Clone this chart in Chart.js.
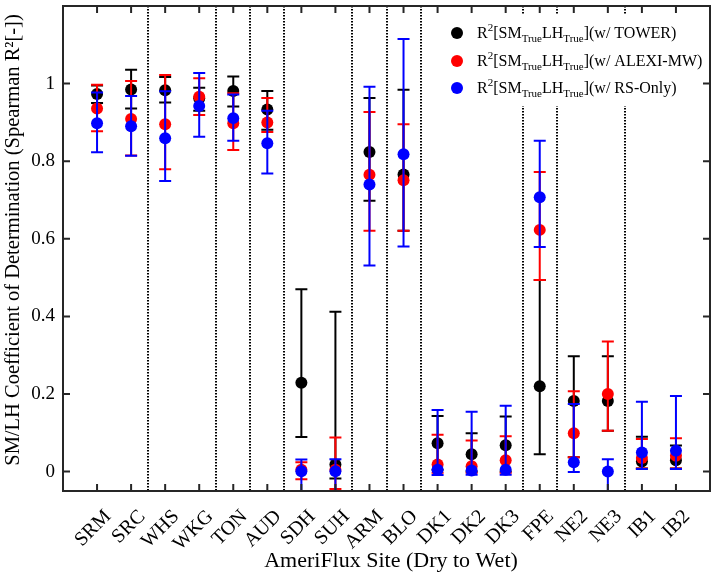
<!DOCTYPE html>
<html><head><meta charset="utf-8">
<script src="https://cdn.jsdelivr.net/npm/chart.js@4.4.0/dist/chart.umd.min.js"></script>
<style>html,body{margin:0;padding:0;background:#fff;} #wrap{width:717px;height:577px;position:relative;}</style>
</head><body><div id="wrap"><canvas id="c" width="717" height="577" style="width:717px;height:577px;"></canvas></div>
<script>
const sites = ['SRM','SRC','WHS','WKG','TON','AUD','SDH','SUH','ARM','BLO','DK1','DK2','DK3','FPE','NE2','NE3','IB1','IB2'];
// Tower (black)
const towerVal = [0.973,0.985,0.983,0.962,0.981,0.933,0.229,0.018,0.824,0.766,0.073,0.045,0.068,0.220,0.182,0.182,0.026,0.029];
const towerLo  = [0.950,0.936,0.951,0.930,0.941,0.881,0.089,-0.018,0.698,0.621,0.005,0.000,0.000,0.045,0.037,0.105,0.008,0.008];
const towerHi  = [0.995,1.036,1.017,0.989,1.018,0.981,0.470,0.412,0.963,0.984,0.143,0.099,0.142,0.494,0.297,0.297,0.090,0.067];
// ALEXI-MW (red)
const alexiVal = [0.936,0.909,0.895,0.966,0.898,0.900,0.005,0.005,0.765,0.751,0.018,0.014,0.029,0.623,0.099,0.200,0.035,0.041];
const alexiLo  = [0.877,0.815,0.779,0.919,0.829,0.875,-0.020,-0.045,0.621,0.621,-0.003,-0.003,-0.003,0.494,0.037,0.105,0.008,0.008];
const alexiHi  = [0.997,1.007,1.022,1.014,0.975,0.963,0.024,0.088,0.927,0.895,0.095,0.080,0.091,0.772,0.207,0.335,0.084,0.086];
// RS-Only (blue)
const rsVal = [0.898,0.890,0.859,0.942,0.911,0.846,0.001,0.001,0.740,0.818,0.005,0.003,0.005,0.707,0.024,0.000,0.049,0.054];
const rsLo  = [0.823,0.814,0.749,0.863,0.853,0.768,-0.080,-0.080,0.531,0.580,-0.009,-0.008,-0.008,0.579,-0.001,-0.080,0.007,0.007];
const rsHi  = [0.977,0.968,0.980,1.027,0.972,0.930,0.031,0.032,0.992,1.115,0.159,0.154,0.170,0.853,0.174,0.032,0.180,0.195];
const separators = [2.5,4.5,5.5,6.5,8.5,9.5,10.5,13.5,14.5,16.5];
const yTicks = [0,0.2,0.4,0.6,0.8,1];
const seriesNames = ['(w/ TOWER)','(w/ ALEXI-MW)','(w/ RS-Only)'];
const seriesColors = ['#000000','#ff0000','#0000ff'];

function pts(v, lo, hi){ return v.map((y,i)=>({x:i+1, y:y, lo:lo[i], hi:hi[i]})); }

const SERIF = '"Liberation Serif", "Times New Roman", serif';

const errPlugin = {
  id:'errbars',
  beforeDatasetDraw(chart, args){
    const ds = chart.data.datasets[args.index];
    const xs = chart.scales.x, ys = chart.scales.y, ca = chart.chartArea, ctx = chart.ctx;
    ctx.save();
    ctx.beginPath(); ctx.rect(ca.left, ca.top, ca.right-ca.left, ca.bottom-ca.top); ctx.clip();
    ctx.strokeStyle = ds.borderColor; ctx.lineWidth = 2;
    ds.data.forEach(p=>{
      const x = xs.getPixelForValue(p.x), y1 = ys.getPixelForValue(p.lo), y2 = ys.getPixelForValue(p.hi);
      ctx.beginPath();
      ctx.moveTo(x,y1); ctx.lineTo(x,y2);
      ctx.moveTo(x-6,y1); ctx.lineTo(x+6,y1);
      ctx.moveTo(x-6,y2); ctx.lineTo(x+6,y2);
      ctx.stroke();
    });
    ctx.restore();
  }
};

const decoPlugin = {
  id:'deco',
  beforeDatasetsDraw(chart){
    const xs = chart.scales.x, ca = chart.chartArea, ctx = chart.ctx;
    ctx.save();
    ctx.strokeStyle = '#000'; ctx.lineWidth = 2; ctx.setLineDash([1.5,1.5]);
    separators.forEach(s=>{
      const x = Math.round(xs.getPixelForValue(s));
      ctx.beginPath(); ctx.moveTo(x, ca.top); ctx.lineTo(x, ca.bottom); ctx.stroke();
    });
    ctx.restore();
  },
  afterDatasetsDraw(chart){
    const xs = chart.scales.x, ys = chart.scales.y, ca = chart.chartArea, ctx = chart.ctx;
    ctx.save();
    // legend
    ctx.fillStyle = '#fff';
    ctx.fillRect(440, 14, ca.right - 442, 92);
    const rows = [33, 61, 88];
    rows.forEach((yy, i)=>{
      ctx.fillStyle = seriesColors[i];
      ctx.beginPath(); ctx.arc(457, yy, 6, 0, Math.PI*2); ctx.fill();
      ctx.fillStyle = '#000';
      let x = 477; const base = yy + 5;
      const parts = [['R',16,0],['2',11,-7],['[SM',16,0],['True',11,4],['LH',16,0],['True',11,4],[']'+seriesNames[i],16,0]];
      ctx.textBaseline = 'alphabetic'; ctx.textAlign = 'left';
      parts.forEach(p=>{
        ctx.font = p[1]+'px '+SERIF;
        ctx.fillText(p[0], x, base + p[2]);
        x += ctx.measureText(p[0]).width;
      });
    });
    // frame
    ctx.strokeStyle = '#262626'; ctx.lineWidth = 2; ctx.setLineDash([]);
    ctx.strokeRect(ca.left, ca.top, ca.right-ca.left, ca.bottom-ca.top);
    // inward ticks
    ctx.lineWidth = 2;
    ctx.beginPath();
    sites.forEach((s,i)=>{
      const x = xs.getPixelForValue(i+1);
      ctx.moveTo(x, ca.bottom); ctx.lineTo(x, ca.bottom-7);
      ctx.moveTo(x, ca.top); ctx.lineTo(x, ca.top+7);
    });
    yTicks.forEach(v=>{
      const y = ys.getPixelForValue(v);
      ctx.moveTo(ca.left, y); ctx.lineTo(ca.left+7, y);
      ctx.moveTo(ca.right, y); ctx.lineTo(ca.right-7, y);
    });
    ctx.stroke();
    // axis titles
    ctx.fillStyle = '#000';
    ctx.font = '22px '+SERIF; ctx.textAlign = 'center'; ctx.textBaseline = 'alphabetic';
    ctx.fillText('AmeriFlux Site (Dry to Wet)', 391, 567);
    ctx.translate(14, 240); ctx.rotate(-Math.PI/2);
    ctx.font = '20.5px '+SERIF; ctx.textBaseline = 'middle';
    ctx.fillText('SM/LH Coefficient of Determination (Spearman R\u00B2[-])', 0, 0);
    ctx.restore();
  }
};

function noPad(s){ s.paddingTop = 0; s.paddingBottom = 0; s.paddingLeft = 0; s.paddingRight = 0; }

new Chart(document.getElementById('c'), {
  type:'scatter',
  data:{ datasets:[
    {label:'TOWER', data:pts(towerVal,towerLo,towerHi), backgroundColor:seriesColors[0], borderColor:seriesColors[0], pointRadius:6, pointBorderWidth:0, order:3},
    {label:'ALEXI-MW', data:pts(alexiVal,alexiLo,alexiHi), backgroundColor:seriesColors[1], borderColor:seriesColors[1], pointRadius:6, pointBorderWidth:0, order:2},
    {label:'RS-Only', data:pts(rsVal,rsLo,rsHi), backgroundColor:seriesColors[2], borderColor:seriesColors[2], pointRadius:6, pointBorderWidth:0, order:1}
  ]},
  options:{
    responsive:false, animation:false, events:[],
    layout:{padding:{left:0,right:7,top:3,bottom:0}},
    plugins:{legend:{display:false}, tooltip:{enabled:false}},
    scales:{
      x:{type:'linear', min:0, max:19,
        grid:{display:false, drawTicks:false}, border:{display:false},
        afterBuildTicks:(s)=>{ s.ticks = sites.map((n,i)=>({value:i+1})); },
        afterFit:(s)=>{ s.height = 86; noPad(s); },
        ticks:{autoSkip:false, minRotation:45, maxRotation:45, padding:14, labelOffset:11, color:'#000',
          font:{family:SERIF, size:20}, callback:(v)=>sites[v-1]||''}
      },
      y:{type:'linear', min:-0.05, max:1.2,
        grid:{display:false, drawTicks:false}, border:{display:false},
        afterBuildTicks:(s)=>{ s.ticks = yTicks.map(v=>({value:v})); },
        afterFit:(s)=>{ s.width = 63; noPad(s); },
        ticks:{padding:8, color:'#000', font:{family:SERIF, size:19}, callback:(v)=>String(Math.round(v*10)/10)}
      }
    }
  },
  plugins:[errPlugin, decoPlugin]
});
</script></body></html>
